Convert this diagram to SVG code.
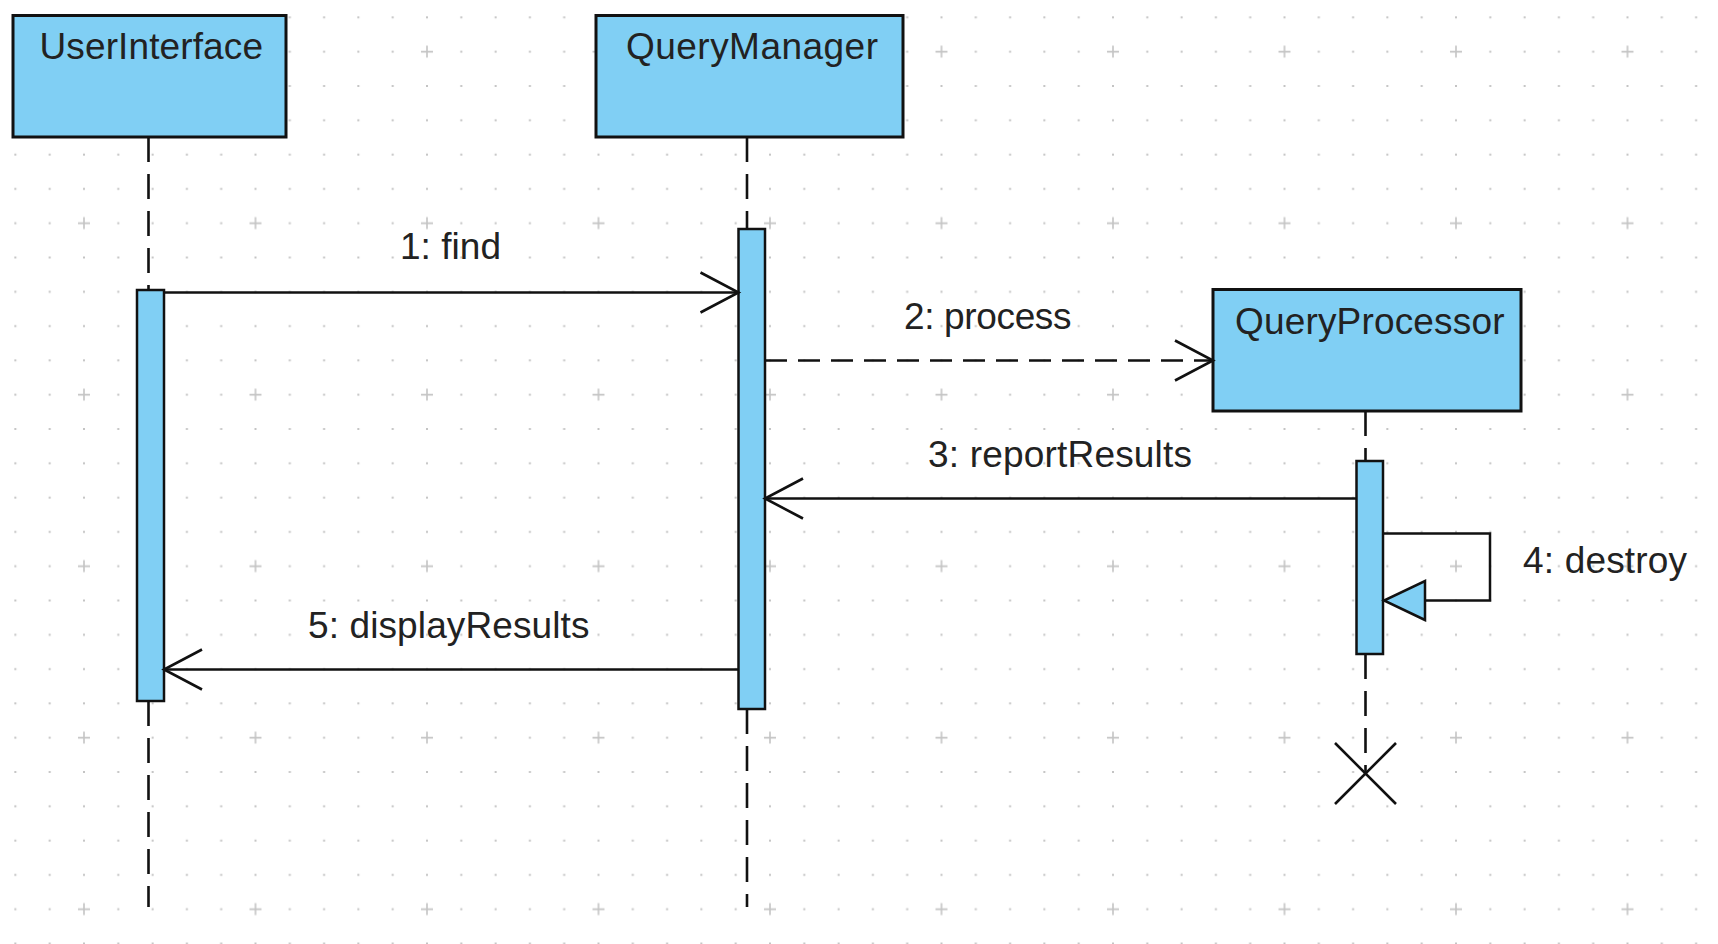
<svg xmlns="http://www.w3.org/2000/svg" width="1718" height="944" viewBox="0 0 1718 944">
  <style>
    .box { fill: #80cff4; stroke: #111; stroke-width: 3; }
    .bar { fill: #80cff4; stroke: #111; stroke-width: 2.5; }
    .life { fill: none; stroke: #111; stroke-width: 2.6; stroke-dasharray: 25 12; }
    .msg { fill: none; stroke: #111; stroke-width: 2.5; }
    .dash { stroke-dasharray: 22 11; }
    .lbl { font-family: "Liberation Sans", Arial, sans-serif; font-size: 37px; fill: #222; }
    .gdot { fill: #c4c4c4; }
    .gx { stroke: #c4c4c4; stroke-width: 1.6; }
  </style>
  <defs>
    <pattern id="grid" patternUnits="userSpaceOnUse" x="-1.75" y="0.25" width="171.5" height="171.5">
      <g class="gdot">
        <rect x="16.15" y="16.15" width="2" height="2"/><rect x="50.45" y="16.15" width="2" height="2"/><rect x="84.75" y="16.15" width="2" height="2"/><rect x="119.05" y="16.15" width="2" height="2"/><rect x="153.35" y="16.15" width="2" height="2"/>
        <rect x="16.15" y="50.45" width="2" height="2"/><rect x="50.45" y="50.45" width="2" height="2"/><rect x="119.05" y="50.45" width="2" height="2"/><rect x="153.35" y="50.45" width="2" height="2"/>
        <rect x="16.15" y="84.75" width="2" height="2"/><rect x="50.45" y="84.75" width="2" height="2"/><rect x="84.75" y="84.75" width="2" height="2"/><rect x="119.05" y="84.75" width="2" height="2"/><rect x="153.35" y="84.75" width="2" height="2"/>
        <rect x="16.15" y="119.05" width="2" height="2"/><rect x="50.45" y="119.05" width="2" height="2"/><rect x="84.75" y="119.05" width="2" height="2"/><rect x="119.05" y="119.05" width="2" height="2"/><rect x="153.35" y="119.05" width="2" height="2"/>
        <rect x="16.15" y="153.35" width="2" height="2"/><rect x="50.45" y="153.35" width="2" height="2"/><rect x="84.75" y="153.35" width="2" height="2"/><rect x="119.05" y="153.35" width="2" height="2"/><rect x="153.35" y="153.35" width="2" height="2"/>
      </g>
      <path class="gx" d="M79.75 51.45 H91.75 M85.75 45.45 V57.45"/>
    </pattern>
    <marker id="open" markerUnits="userSpaceOnUse" markerWidth="46" markerHeight="46" refX="41" refY="23" orient="auto">
      <path d="M3 3 L41 23 L3 43" fill="none" stroke="#111" stroke-width="2.6" stroke-linejoin="miter"/>
    </marker>
    <marker id="tri" markerUnits="userSpaceOnUse" markerWidth="48" markerHeight="46" refX="44" refY="23" orient="auto">
      <path d="M3 3.5 L44 23 L3 42.5 Z" fill="#80cff4" stroke="#111" stroke-width="2.5"/>
    </marker>
  </defs>

  <!-- background with dot grid -->
  <rect width="1718" height="944" fill="#ffffff"/>
  <rect width="1718" height="944" fill="url(#grid)"/>

  <!-- lifelines -->
  <g id="lifelines">
    <path class="life" d="M148.5 137 V290 M148.5 701 V907"/>
    <path class="life" d="M747 137 V229 M747 709 V907"/>
    <path class="life" d="M1365.5 411 V461 M1365.5 654 V773"/>
  </g>

  <!-- participants -->
  <g id="UserInterface">
    <rect class="box" x="13" y="15.5" width="273" height="121.5"/>
    <text class="lbl" x="39.5" y="58.5" textLength="223.5" lengthAdjust="spacing">UserInterface</text>
  </g>
  <g id="QueryManager">
    <rect class="box" x="596" y="15.5" width="307" height="121.5"/>
    <text class="lbl" x="626" y="58.5" textLength="252" lengthAdjust="spacing">QueryManager</text>
  </g>
  <g id="QueryProcessor">
    <rect class="box" x="1213" y="289.5" width="308" height="121.5"/>
    <text class="lbl" x="1235" y="333.5" textLength="269.5" lengthAdjust="spacing">QueryProcessor</text>
  </g>

  <!-- activations -->
  <g id="UserInterface-activation">
    <rect class="bar" x="137" y="290" width="27" height="411"/>
  </g>
  <g id="QueryManager-activation">
    <rect class="bar" x="738.5" y="229" width="26.5" height="480"/>
  </g>
  <g id="QueryProcessor-activation">
    <rect class="bar" x="1356.5" y="461" width="26.5" height="193"/>
  </g>

  <!-- destruction mark -->
  <g id="QueryProcessor-destroyed">
    <path d="M1335 743 L1396 804 M1396 743 L1335 804" fill="none" stroke="#111" stroke-width="2.6"/>
  </g>

  <!-- messages -->
  <g id="connectors">
    <line class="msg" x1="164" y1="292.5" x2="738.5" y2="292.5" marker-end="url(#open)"/>
    <line class="msg dash" x1="765" y1="360.5" x2="1213" y2="360.5" marker-end="url(#open)"/>
    <line class="msg" x1="1356.5" y1="498.5" x2="765" y2="498.5" marker-end="url(#open)"/>
    <polyline class="msg" points="1383,533.5 1490,533.5 1490,600.5 1384,600.5" marker-end="url(#tri)"/>
    <line class="msg" x1="738.5" y1="669.5" x2="164" y2="669.5" marker-end="url(#open)"/>
  </g>

  <!-- message labels -->
  <g id="labels">
    <text class="lbl" x="400" y="259" textLength="101" lengthAdjust="spacing">1: find</text>
    <text class="lbl" x="904" y="329" textLength="167.5" lengthAdjust="spacing">2: process</text>
    <text class="lbl" x="928" y="467" textLength="264" lengthAdjust="spacing">3: reportResults</text>
    <text class="lbl" x="1523" y="573" textLength="164" lengthAdjust="spacing">4: destroy</text>
    <text class="lbl" x="308" y="638" textLength="281.5" lengthAdjust="spacing">5: displayResults</text>
  </g>
</svg>
